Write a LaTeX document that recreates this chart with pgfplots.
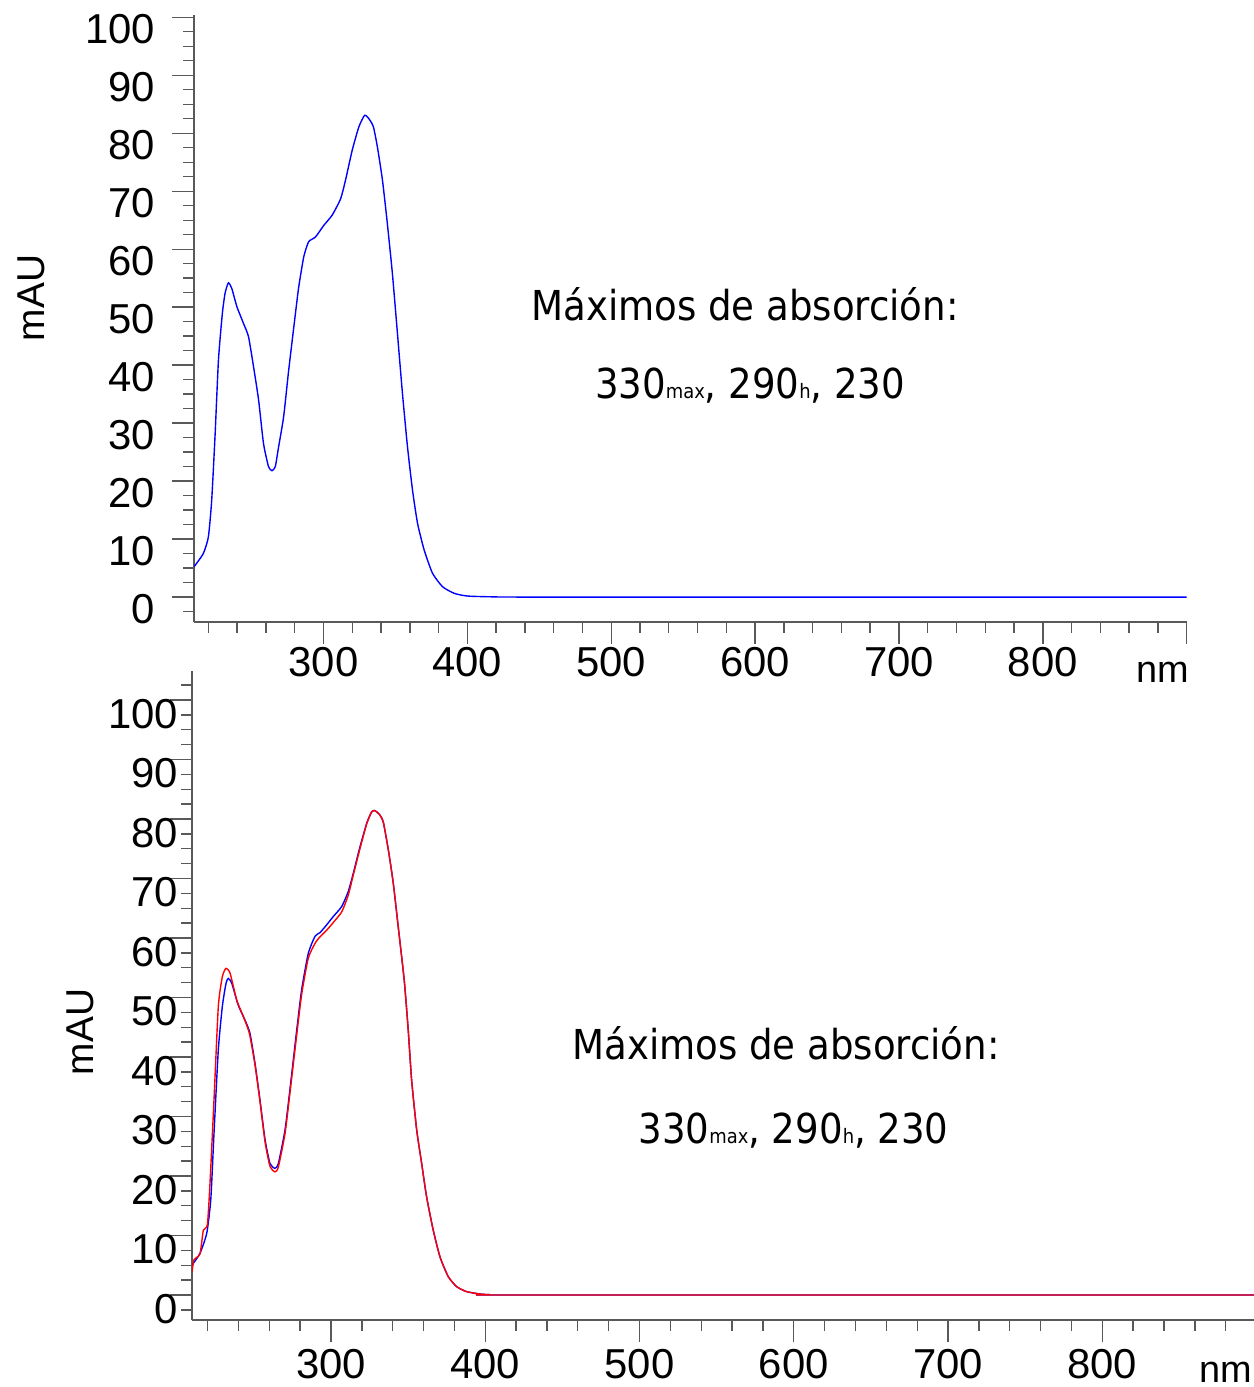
\documentclass[border=0pt]{standalone}
\usepackage{fontspec}
\setmainfont{Liberation Sans}
\newfontfamily\tah{DejaVu Sans Condensed}
\usepackage{pgfplots}
\pgfplotsset{compat=1.18}
\definecolor{cblue}{RGB}{0,0,255}
\definecolor{cred}{RGB}{255,0,0}
\pgfplotsset{
  spec/.style={
    scale only axis,
    anchor=south west,
    xmin=210, xmax=900,
    axis lines=left,
    axis line style={-, draw=black!65, line width=0.7pt},
    tick align=outside,
    major tick length=11bp, minor tick length=5.5bp,
    every tick/.style={black!65, line width=0.7pt},
    xtick={300,400,...,900},
    xticklabels={300,400,500,600,700,800,},
    minor xtick={220,240,...,900},
    ytick={0,10,...,100},
    ticklabel style={font=\fontsize{21}{25}\selectfont},
    /pgf/number format/assume math mode=true,
  }
}
\begin{document}
\begin{tikzpicture}
% ---------- top panel ----------
\begin{axis}[spec,
  at={(97bp,382.5bp)},
  width=496.35bp, height=303.5bp,
  ymin=-4.3, ymax=100.4,
  minor ytick={-2.5,0,...,100},
  yticklabel style={anchor=east, xshift=-5bp, yshift=-6bp},
  xticklabel style={yshift=2bp},
]
\addplot[cblue, line width=0.7pt, smooth, tension=0.35] coordinates {
(210.0,5.22)(216.5,7.53)(220.0,10.4)(222.3,16.7)(224.7,28.2)(227.0,40.9)
(229.7,48.9)(231.6,52.4)(233.9,54.2)(236.3,53.2)(239.8,50.1)(244.4,47.2)
(247.9,44.9)(251.4,39.7)(254.9,34.0)(258.3,26.5)(261.8,22.5)(264.2,21.8)
(266.5,22.5)(268.8,25.9)(272.3,31.1)(275.8,39.1)(280.5,48.9)(282.8,53.5)
(286.3,58.7)(289.7,61.3)(294.4,62.1)(300.2,64.1)(306.1,65.9)(311.9,68.7)
(315.3,71.9)(320.0,77.1)(324.6,81.1)(328.6,83.1)(331.6,82.5)(334.7,81.1)
(337.5,77.6)(341.0,71.9)(344.4,64.4)(347.9,55.8)(351.4,45.5)(354.9,35.1)
(358.4,25.9)(361.9,18.4)(365.4,12.7)(370.0,8.1)(375.8,4.1)(382.8,1.78)
(390.9,0.64)(400.3,0.17)(420,0.03)(450,0)(900,0)
};
\end{axis}
% ---------- bottom panel ----------
\begin{axis}[spec,
  at={(96.05bp,33.5bp)},
  width=532.25bp, height=324.5bp,
  ymin=-4.2, ymax=104.87,
  minor ytick={-2.5,0,...,105},
  yticklabel style={anchor=east, xshift=7.5bp, yshift=-7bp},
]
\addplot[cblue, line width=0.7pt, smooth, tension=0.35] coordinates {
(210.0,5.04)(215.1,7.0)(219.5,10.4)(222.1,16.0)(224.2,27.2)(227.0,41.2)
(229.6,48.5)(232.0,52.4)(233.5,53.2)(235.7,52.4)(239.9,48.7)(244.3,46.2)
(247.5,44.0)(250.8,38.9)(254.0,32.8)(257.3,26.1)(260.5,22.1)(263.7,21.3)
(265.9,22.1)(270.2,27.7)(273.4,34.5)(277.8,44.5)(281.0,51.3)(285.3,57.4)
(289.7,60.3)(292.9,60.9)(297.2,62.2)(301.5,63.6)(307.0,65.3)(311.2,67.8)
(314.5,70.9)(318.8,75.3)(323.2,79.3)(326.4,81.2)(328.5,81.4)(331.3,80.8)
(333.9,79.5)(337.2,74.8)(340.4,69.2)(343.6,61.9)(347.5,52.9)(350.1,44.5)
(352.3,36.1)(355.6,27.7)(358.8,22.1)(362.0,16.5)(366.3,10.9)(370.7,6.4)
(376.0,3.1)(381.5,1.4)(388.0,0.56)(396.6,0.17)(403.1,0.05)(420,0)(900,0)
};
\addplot[cred, line width=0.7pt, smooth, tension=0.35] coordinates {
(210.0,3.9)(211.2,5.9)(215.1,6.9)(217.3,10.9)(219.9,11.8)(221.6,18.8)
(224.2,32.8)(227.0,48.5)(229.6,53.5)(232.0,54.9)(234.6,54.1)(238.9,49.6)
(243.2,46.8)(247.1,44.0)(250.8,38.6)(254.0,32.5)(257.3,25.7)(260.5,21.6)
(263.7,20.7)(265.9,21.5)(270.2,27.1)(273.4,33.9)(277.8,43.7)(281.0,50.5)
(285.3,56.6)(289.7,59.1)(292.9,60.2)(297.2,61.3)(301.5,62.6)(307.0,64.4)
(311.2,67.2)(314.5,70.6)(318.8,75.0)(323.2,79.2)(326.4,81.2)(328.5,81.4)
(331.3,80.8)(333.9,79.5)(337.2,74.8)(340.4,69.2)(343.6,61.9)(347.5,52.9)
(350.1,44.5)(352.3,36.1)(355.6,27.7)(358.8,22.1)(362.0,16.5)(366.3,10.9)
(370.7,6.4)(376.0,3.1)(381.5,1.4)(388.0,0.56)(396.6,0.17)(403.1,0.05)
(420,0)(900,0)
};
\end{axis}
% ---------- labels ----------
\node[rotate=90, font=\fontsize{19.5}{23}\selectfont] at (15.5bp,544.5bp) {mAU};
\node[rotate=90, font=\fontsize{19.5}{23}\selectfont] at (40bp,177.5bp) {mAU};
\node[anchor=base, font=\fontsize{19}{23}\selectfont, inner sep=0pt] at (581.5bp,352bp) {nm};
\node[anchor=base east, font=\fontsize{19}{23}\selectfont, inner sep=0pt] at (626bp,2.5bp) {nm};
\node[anchor=base, inner sep=0pt, font=\tah\fontsize{20.7}{24}\selectfont] at (372.5bp,533bp) {Máximos de absorción:};
\node[anchor=base, inner sep=0pt, font=\tah\fontsize{20.7}{24}\selectfont] at (375bp,494.35bp) {330{\fontsize{10}{12}\selectfont max}, 290{\fontsize{10}{12}\selectfont h}, 230};
\node[anchor=base, inner sep=0pt, font=\tah\fontsize{20.7}{24}\selectfont] at (393bp,163.5bp) {Máximos de absorción:};
\node[anchor=base, inner sep=0pt, font=\tah\fontsize{20.7}{24}\selectfont] at (396.75bp,121.85bp) {330{\fontsize{10}{12}\selectfont max}, 290{\fontsize{10}{12}\selectfont h}, 230};
\pgfresetboundingbox
\useasboundingbox (0,0) rectangle (627bp,693.5bp);
\end{tikzpicture}
\end{document}
